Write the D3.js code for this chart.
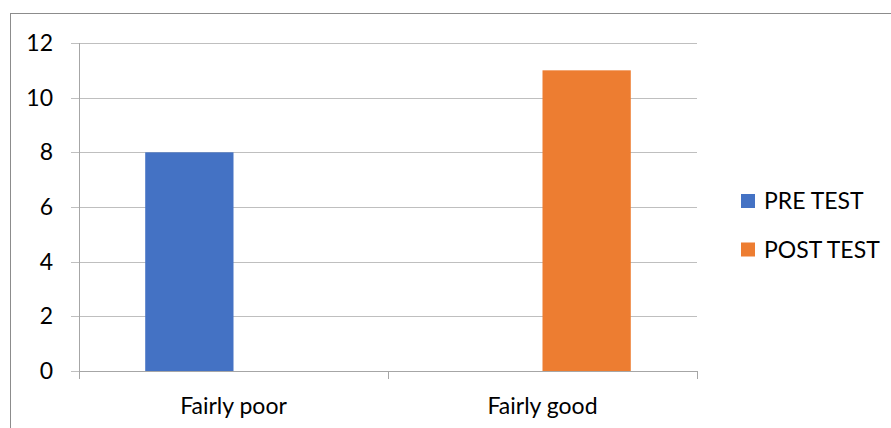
<!DOCTYPE html>
<html>
<head>
<meta charset="utf-8">
<script src="https://cdn.jsdelivr.net/npm/d3@7"></script>
<style>
  body { margin: 0; background: #fff; }
  svg { display: block; font-family: Lato, "Liberation Sans", sans-serif; }
</style>
</head>
<body>
<div id="chart"></div>
<script>
// Chart data
const categories = ["Fairly poor", "Fairly good"];
const seriesNames = ["PRE TEST", "POST TEST"];
const preTest = [8, 0];
const postTest = [0, 11];
const yTicks = [0, 2, 4, 6, 8, 10, 12];

const colors = ["#4472c4", "#ed7d31"];

const width = 891, height = 428;
const margin = { left: 79, right: 194, top: 43, bottom: 57 };

const svg = d3.select("#chart")
    .append("svg")
    .attr("width", width)
    .attr("height", height);

// outer chart frame (runs off the right and bottom edges)
svg.append("rect")
    .attr("x", 10.5)
    .attr("y", 13.5)
    .attr("width", 900)
    .attr("height", 440)
    .attr("fill", "none")
    .attr("stroke", "#8c8c8c");

const x0 = d3.scaleBand()
    .domain(categories)
    .range([margin.left, width - margin.right]);

// gap width 150% like Excel
const bw = x0.bandwidth() / 3.5;
const x1 = d3.scaleBand()
    .domain(seriesNames)
    .range([x0.bandwidth() / 2 - bw, x0.bandwidth() / 2 + bw]);

const y = d3.scaleLinear()
    .domain([0, 12])
    .range([height - margin.bottom, margin.top]);

const x = v => Math.round(v) + 0.5;

// gridlines
svg.append("g")
    .selectAll("line")
    .data(yTicks)
    .join("line")
    .attr("x1", margin.left - 8)
    .attr("x2", width - margin.right)
    .attr("y1", d => x(y(d)))
    .attr("y2", d => x(y(d)))
    .attr("stroke", "#bfbfbf");

// y axis line
svg.append("line")
    .attr("x1", x(margin.left)).attr("x2", x(margin.left))
    .attr("y1", y(12)).attr("y2", y(0) + 8)
    .attr("stroke", "#a6a6a6");

// x axis ticks between categories
const xTickPos = [margin.left, margin.left + x0.step(), width - margin.right];
svg.append("g")
    .selectAll("line")
    .data(xTickPos)
    .join("line")
    .attr("x1", d => x(d)).attr("x2", d => x(d))
    .attr("y1", y(0)).attr("y2", y(0) + 8)
    .attr("stroke", "#a6a6a6");

svg.append("line")
    .attr("x1", margin.left).attr("x2", width - margin.right)
    .attr("y1", x(y(0))).attr("y2", x(y(0)))
    .attr("stroke", "#a6a6a6");

// y labels
svg.append("g")
    .selectAll("text")
    .data(yTicks)
    .join("text")
    .attr("x", 53)
    .attr("y", d => y(d))
    .attr("dy", "0.35em")
    .attr("text-anchor", "end")
    .attr("font-size", 23)
    .attr("fill", "#000")
    .text(d => d);

// bars
const rows = categories.map((c, i) => ({ cat: c, values: [preTest[i], postTest[i]] }));
const groups = svg.append("g")
    .selectAll("g")
    .data(rows)
    .join("g")
    .attr("transform", d => `translate(${x0(d.cat)},0)`);

groups.selectAll("rect")
    .data(d => d.values.map((v, j) => ({ name: seriesNames[j], value: v, j })))
    .join("rect")
    .attr("x", d => x1(d.name))
    .attr("width", x1.bandwidth())
    .attr("y", d => y(d.value))
    .attr("height", d => y(0) - y(d.value))
    .attr("fill", d => colors[d.j]);

// category labels
svg.append("g")
    .selectAll("text")
    .data(categories)
    .join("text")
    .attr("x", d => x0(d) + x0.bandwidth() / 2)
    .attr("y", 414)
    .attr("text-anchor", "middle")
    .attr("font-size", 23)
    .attr("fill", "#000")
    .text(d => d);

// legend
const legend = svg.append("g")
    .attr("transform", "translate(741,194)");

seriesNames.forEach((name, i) => {
    const g = legend.append("g").attr("transform", `translate(0,${i * 48.5})`);
    g.append("rect")
        .attr("width", 14)
        .attr("height", 14)
        .attr("fill", colors[i]);
    g.append("text")
        .attr("x", 23)
        .attr("y", 7)
        .attr("dy", "0.35em")
        .attr("font-size", 23)
        .attr("fill", "#000")
        .text(name);
});
</script>
</body>
</html>
